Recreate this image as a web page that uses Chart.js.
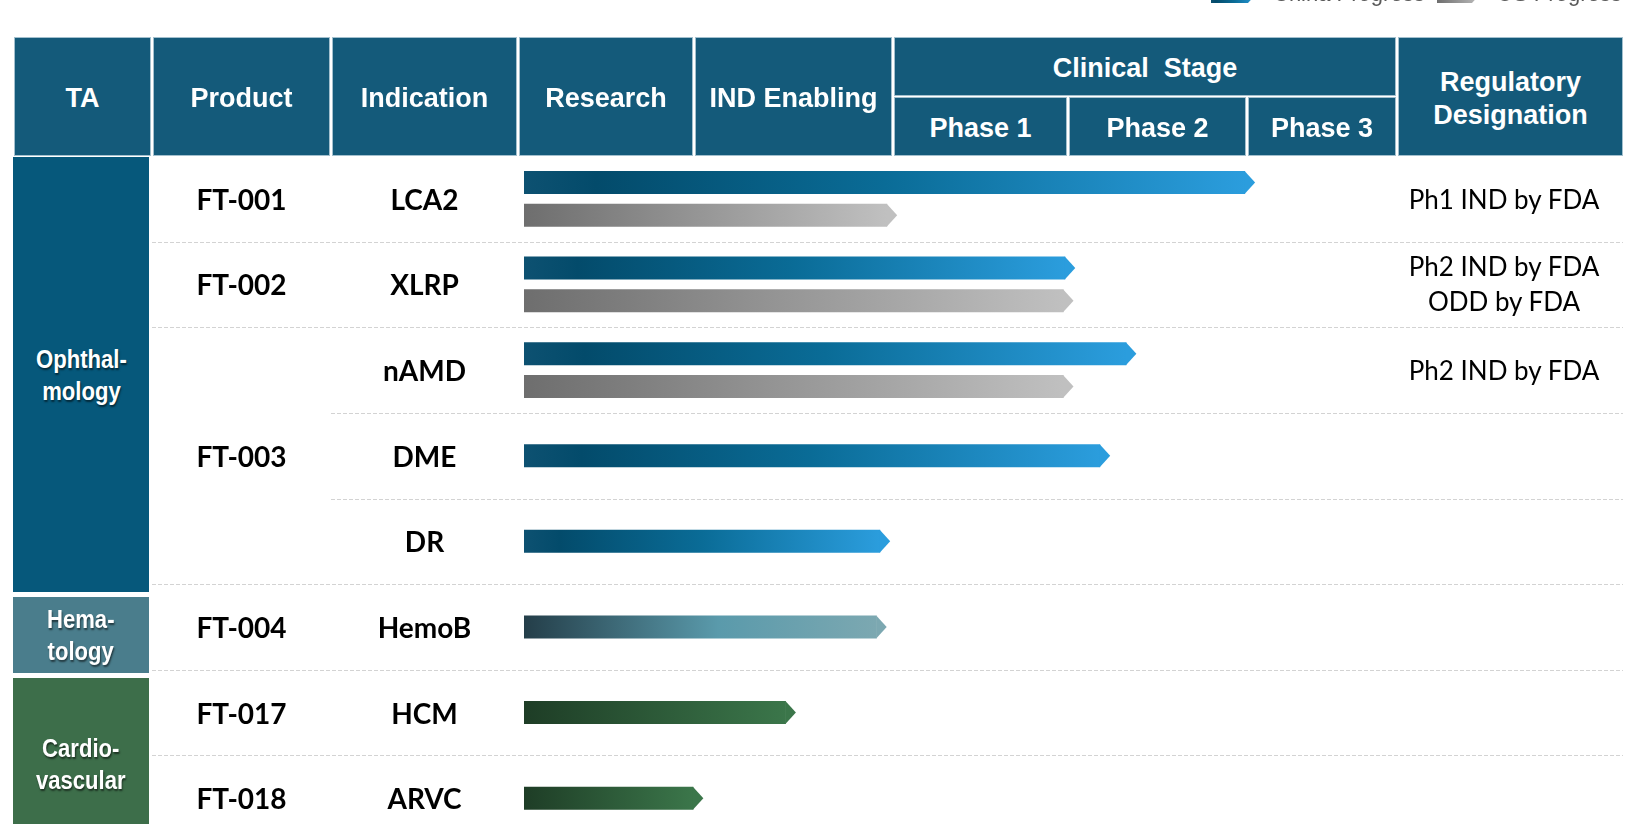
<!DOCTYPE html>
<html>
<head>
<meta charset="utf-8">
<script src="https://cdn.jsdelivr.net/npm/chart.js@4.4.1/dist/chart.umd.min.js"></script>
<style>
  html, body { margin: 0; padding: 0; background: #fff; overflow: hidden; }
  #stage { position: relative; width: 1648px; height: 824px; overflow: hidden; }
  #pipeline { position: absolute; left: 0; top: 0; }
  .hd {
    position: absolute; box-sizing: border-box; background: #145a7a;
    border: 1px solid #a3c0ce; color: #fff; padding-top: 4px;
    font: bold 27px "Liberation Sans", Arial, sans-serif; line-height: 33px;
    display: flex; align-items: center; justify-content: center;
    text-align: center; white-space: pre;
  }
  .ta {
    position: absolute; color: #fff; text-align: center; white-space: pre;
    font: bold 26px "Liberation Sans", Arial, sans-serif; line-height: 32px;
    display: flex; align-items: center; justify-content: center;
    text-shadow: 1px 2px 2px rgba(0, 0, 0, 0.55);
  }
  .ta span { display: inline-block; transform: scaleX(0.85); }
  .lbl {
    position: absolute; transform: translate(-50%, -50%); white-space: nowrap;
    font: bold 28px Lato, "Noto Sans", sans-serif; color: #000;
  }
  .reg {
    position: absolute; transform: translate(-50%, -50%); white-space: pre;
    text-align: center; font: 26px Lato, "Noto Sans", sans-serif;
    line-height: 35px; color: #000;
  }
  .leg-sw { position: absolute; top: -19px; width: 47px; height: 22px;
    clip-path: polygon(0 0, calc(100% - 10px) 0, 100% 50%, calc(100% - 10px) 100%, 0 100%); }
  .leg-tx { position: absolute; top: -17px; font: 22px "Liberation Sans", Arial, sans-serif;
    line-height: 22px; color: #595959; white-space: nowrap; }
</style>
</head>
<body>
<div id="stage">
  <canvas id="pipeline" width="1648" height="841"></canvas>
</div>
<script>
(function () {
  "use strict";

  // ---- data (one entry per pipeline row, top to bottom) ----
  var indications = ["LCA2", "XLRP", "nAMD", "DME", "DR", "HemoB", "HCM", "ARVC"];
  var products = ["FT-001", "FT-002", "FT-003", "FT-003", "FT-003", "FT-004", "FT-017", "FT-018"];
  var areas = ["Ophthal-\nmology", "Ophthal-\nmology", "Ophthal-\nmology", "Ophthal-\nmology",
               "Ophthal-\nmology", "Hema-\ntology", "Cardio-\nvascular", "Cardio-\nvascular"];
  // progress in stage units (0 = start of Research, 5 = end of Phase 3)
  var chinaProgress = [4.13, 3.10, 3.45, 3.30, 2.04, 2.02, 1.50, 0.97];
  var usProgress = [2.08, 3.09, 3.09, null, null, null, null, null];
  var designations = ["Ph1 IND by FDA", "Ph2 IND by FDA\nODD by FDA", "Ph2 IND by FDA",
                      "", "", "", "", ""];
  var stages = ["Research", "IND Enabling", "Phase 1", "Phase 2", "Phase 3"];
  var seriesNames = ["China Progress", "US Progress"];

  // ---- look ----
  var AREA_STYLE = {
    "Ophthal-\nmology": { block: "#06587b", stops: [[0, "#0d5171"], [0.1, "#034b6b"], [0.5, "#0a6c97"], [1, "#2b9ddd"]] },
    "Hema-\ntology":    { block: "#4a7d8c", stops: [[0, "#243e49"], [0.55, "#5a9aab"], [1, "#7ca8b1"]] },
    "Cardio-\nvascular": { block: "#3d6e4a", stops: [[0, "#1e3d26"], [1, "#3b764a"]] }
  };
  var US_STOPS = [[0, "#6e6e6e"], [1, "#c0c0c0"]];

  // column edges (px) for the table frame
  var EDGES = [13, 152, 331, 518, 694, 893, 1068, 1247, 1397, 1624];
  var HEAD_TOP = 37, HEAD_MID = 96, HEAD_BOT = 156;
  var TA_BLOCKS = [[157, 592], [597, 673], [678, 850]];
  var REG_CENTER = 1504;

  var stage = document.getElementById("stage");

  function addDiv(cls, text, css) {
    var d = document.createElement("div");
    d.className = cls;
    d.textContent = text;
    for (var k in css) d.style[k] = css[k];
    stage.appendChild(d);
    return d;
  }

  function cell(c0, c1, top, bottom, text) {
    addDiv("hd", text, {
      left: (EDGES[c0] + 1) + "px", width: (EDGES[c1] - EDGES[c0] - 2) + "px",
      top: top + "px", height: (bottom - top) + "px"
    });
  }

  // header
  cell(0, 1, HEAD_TOP, HEAD_BOT, "TA");
  cell(1, 2, HEAD_TOP, HEAD_BOT, "Product");
  cell(2, 3, HEAD_TOP, HEAD_BOT, "Indication");
  cell(3, 4, HEAD_TOP, HEAD_BOT, stages[0]);
  cell(4, 5, HEAD_TOP, HEAD_BOT, stages[1]);
  cell(5, 8, HEAD_TOP, HEAD_MID, "Clinical  Stage");
  cell(5, 6, HEAD_MID + 1, HEAD_BOT, stages[2]);
  cell(6, 7, HEAD_MID + 1, HEAD_BOT, stages[3]);
  cell(7, 8, HEAD_MID + 1, HEAD_BOT, stages[4]);
  cell(8, 9, HEAD_TOP, HEAD_BOT, "Regulatory\nDesignation");

  // legend (sits mostly above the visible page, as in the slide)
  function stopsCss(stops) {
    return "linear-gradient(90deg," + stops.map(function (s) {
      return s[1] + " " + (s[0] * 100) + "%";
    }).join(",") + ")";
  }
  addDiv("leg-sw", "", { left: "1211px", background: stopsCss(AREA_STYLE["Ophthal-\nmology"].stops) });
  addDiv("leg-tx", seriesNames[0], { left: "1273px" });
  addDiv("leg-sw", "", { left: "1437px", width: "45px", background: stopsCss(US_STOPS) });
  addDiv("leg-tx", seriesNames[1], { left: "1497px" });

  function stopsFor(datasetIndex, i) {
    return datasetIndex === 1 ? US_STOPS : AREA_STYLE[areas[i]].stops;
  }

  function fill(datasetIndex) {
    return function (ctx) {
      if (ctx.type !== "data" || ctx.raw == null) return "rgba(0,0,0,0)";
      var stops = stopsFor(datasetIndex, ctx.dataIndex);
      var xs = ctx.chart.scales.x;
      var x0 = xs ? xs.getPixelForValue(0) : NaN;
      var x1 = xs ? xs.getPixelForValue(ctx.raw) : NaN;
      if (!isFinite(x0) || !isFinite(x1) || x1 <= x0) return stops[stops.length - 1][1];
      var g = ctx.chart.ctx.createLinearGradient(x0, 0, x1, 0);
      stops.forEach(function (s) { g.addColorStop(s[0], s[1]); });
      return g;
    };
  }

  // dashed separators between rows; rows of the same product only split
  // from the indication column onwards
  var rowLines = {
    id: "rowLines",
    beforeDatasetsDraw: function (chart) {
      var ys = chart.scales.y, c = chart.ctx;
      c.save();
      c.setLineDash([4, 2]);
      c.lineWidth = 1;
      c.strokeStyle = "#d3d3d3";
      for (var i = 0; i < indications.length - 1; i++) {
        var y = Math.round((ys.getPixelForValue(i) + ys.getPixelForValue(i + 1)) / 2) + 0.5;
        var x0 = products[i] === products[i + 1] ? EDGES[2] : EDGES[1];
        c.beginPath();
        c.moveTo(x0, y);
        c.lineTo(EDGES[9] - 1, y);
        c.stroke();
      }
      c.restore();
    }
  };

  // chevron tip at the end of every bar, in the bar's end colour
  var arrowTips = {
    id: "arrowTips",
    afterDatasetsDraw: function (chart) {
      var c = chart.ctx;
      chart.data.datasets.forEach(function (ds, di) {
        var meta = chart.getDatasetMeta(di);
        meta.data.forEach(function (el, i) {
          if (ds.data[i] == null) return;
          var stops = stopsFor(di, i);
          var h = el.height, tip = Math.round(h * 0.45);
          c.save();
          c.fillStyle = stops[stops.length - 1][1];
          c.beginPath();
          c.moveTo(el.x - 0.5, el.y - h / 2);
          c.lineTo(el.x + tip, el.y);
          c.lineTo(el.x - 0.5, el.y + h / 2);
          c.closePath();
          c.fill();
          c.restore();
        });
      });
    }
  };

  var barOpts = {
    skipNull: true,
    categoryPercentage: 0.767,
    barPercentage: 0.7,
    maxBarThickness: 23,
    borderWidth: 0,
    borderSkipped: false
  };

  var chart = new Chart(document.getElementById("pipeline"), {
    type: "bar",
    data: {
      labels: indications,
      datasets: [
        Object.assign({ label: seriesNames[0], data: chinaProgress, backgroundColor: fill(0) }, barOpts),
        Object.assign({ label: seriesNames[1], data: usProgress, backgroundColor: fill(1) }, barOpts)
      ]
    },
    options: {
      indexAxis: "y",
      responsive: false,
      animation: false,
      layout: { padding: { left: 524, right: 251, top: 156, bottom: 0 } },
      scales: {
        x: { type: "linear", min: 0, max: 5, display: false },
        y: { type: "category", display: false }
      },
      plugins: { legend: { display: false }, tooltip: { enabled: false } }
    },
    plugins: [rowLines, arrowTips]
  });

  // row texts placed from the chart's own y scale
  var ys = chart.scales.y;
  function rowY(i) { return ys.getPixelForValue(i); }

  function groups(arr) {
    var out = [], start = 0;
    for (var i = 1; i <= arr.length; i++) {
      if (i === arr.length || arr[i] !== arr[start]) {
        out.push({ value: arr[start], from: start, to: i - 1 });
        start = i;
      }
    }
    return out;
  }

  var productX = (EDGES[1] + EDGES[2]) / 2;
  groups(products).forEach(function (g) {
    addDiv("lbl", g.value, { left: productX + "px", top: ((rowY(g.from) + rowY(g.to)) / 2) + "px" });
  });

  var indX = (EDGES[2] + EDGES[3]) / 2;
  indications.forEach(function (name, i) {
    addDiv("lbl", name, { left: indX + "px", top: rowY(i) + "px" });
  });

  designations.forEach(function (t, i) {
    if (t) addDiv("reg", t, { left: REG_CENTER + "px", top: rowY(i) + "px" });
  });

  groups(areas).forEach(function (g, k) {
    var b = TA_BLOCKS[k];
    var d = addDiv("ta", "", {
      left: EDGES[0] + "px", width: (149 - EDGES[0]) + "px",
      top: b[0] + "px", height: (b[1] - b[0]) + "px",
      background: AREA_STYLE[g.value].block
    });
    var s = document.createElement("span");
    s.textContent = g.value;
    d.appendChild(s);
  });
})();
</script>
</body>
</html>
